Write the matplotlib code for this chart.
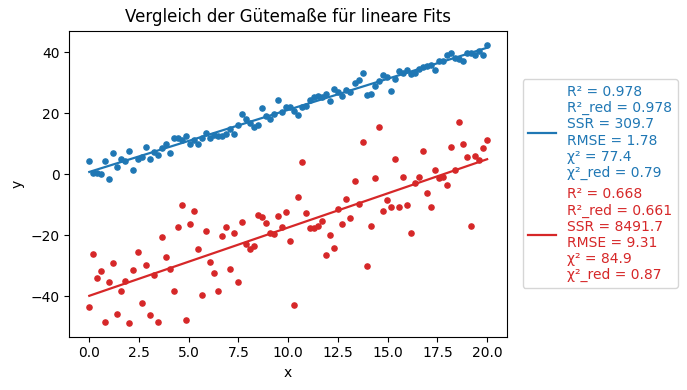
import numpy as np
import matplotlib
matplotlib.use("Agg")
import matplotlib.pyplot as plt

# sample positions (100 evenly spaced samples from 0 to 20)
x = np.linspace(0, 20, 100)

y_blue = [4.2, 0.4, 0.4, -0.1, 4.2, -1.6, 6.9, 2.2, 4.9, 4.2,
          7.7, 1.3, 5.1, 5.5, 8.8, 4.8, 7.2, 6.1, 8.4, 9.8,
          6.9, 11.7, 11.7, 11.3, 12.4, 9.7, 11.1, 10.0, 11.8, 13.6,
          11.7, 12.7, 12.4, 12.5, 13.0, 14.9, 13.2, 16.2, 19.6, 18.2,
          16.6, 15.5, 16.2, 21.8, 19.0, 17.9, 19.8, 24.2, 20.4, 21.9,
          21.9, 20.6, 19.5, 21.9, 22.4, 24.4, 25.1, 25.6, 25.1, 26.4,
          23.8, 28.0, 26.9, 25.7, 27.7, 26.9, 30.0, 30.9, 33.0, 26.0,
          26.4, 28.8, 30.4, 32.4, 31.7, 27.1, 31.1, 33.7, 33.0, 34.1,
          32.8, 33.2, 34.3, 35.2, 35.3, 35.6, 34.2, 36.9, 36.9, 39.1,
          39.8, 38.2, 37.6, 37.2, 39.8, 39.8, 39.1, 40.4, 39.1, 42.4]

y_red = [-43.5, -26.2, -34.1, -31.8, -48.5, -35.4, -29.2, -45.8, -38.3, -35.0,
         -48.7, -31.5, -25.6, -42.3, -29.8, -46.2, -33.1, -48.5, -20.7, -27.2,
         -31.1, -38.3, -17.4, -10.2, -47.8, -16.4, -12.2, -24.6, -39.6, -18.7,
         -28.9, -32.5, -38.3, -20.4, -17.4, -31.1, -19.4, -35.4, -15.8, -23.0,
         -24.6, -23.6, -13.4, -14.2, -16.1, -19.4, -19.7, -13.8, -17.4, -12.5,
         -22.0, -42.9, -7.6, 4.1, -12.9, -17.8, -17.8, -17.1, -15.5, -26.6,
         -20.0, -24.2, -11.5, -16.4, -8.3, -14.5, -2.4, -9.9, 10.4, -30.1,
         -17.1, -1.4, 15.3, -12.2, -8.6, -10.9, 4.8, -10.9, -0.8, -10.2,
         -19.4, -3.0, -0.8, 7.4, -6.3, -10.9, 1.2, -1.4, -0.8, -3.7,
         9.0, 1.5, 17.2, 9.7, 5.5, -17.1, 5.8, 4.5, 8.7, 11.3]

label_blue = "R² = 0.978\nR²_red = 0.978\nSSR = 309.7\nRMSE = 1.78\nχ² = 77.4\nχ²_red = 0.79"
label_red = "R² = 0.668\nR²_red = 0.661\nSSR = 8491.7\nRMSE = 9.31\nχ² = 84.9\nχ²_red = 0.87"

title = "Vergleich der Gütemaße für lineare Fits"

c_blue = "#1f77b4"
c_red = "#d62728"

fig = plt.figure(figsize=(6.87, 3.9), dpi=100)
ax = fig.add_axes([0.101, 0.137, 0.637, 0.784])

ax.scatter(x, y_blue, s=14, color=c_blue)
ax.scatter(x, y_red, s=14, color=c_red)

pb = np.polyfit(x, y_blue, 1)
pr = np.polyfit(x, y_red, 1)
ax.plot(x, np.polyval(pb, x), color=c_blue, lw=1.6, label=label_blue)
ax.plot(x, np.polyval(pr, x), color=c_red, lw=1.6, label=label_red)

ax.set_title(title)
ax.set_xlabel("x")
ax.set_ylabel("y")
ax.set_xticks([0, 2.5, 5, 7.5, 10, 12.5, 15, 17.5, 20])
ax.set_yticks([-40, -20, 0, 20, 40])

ax.legend(loc="center left", bbox_to_anchor=(1.02, 0.5), labelcolor="linecolor")

fig.savefig("out.png", dpi=100)
